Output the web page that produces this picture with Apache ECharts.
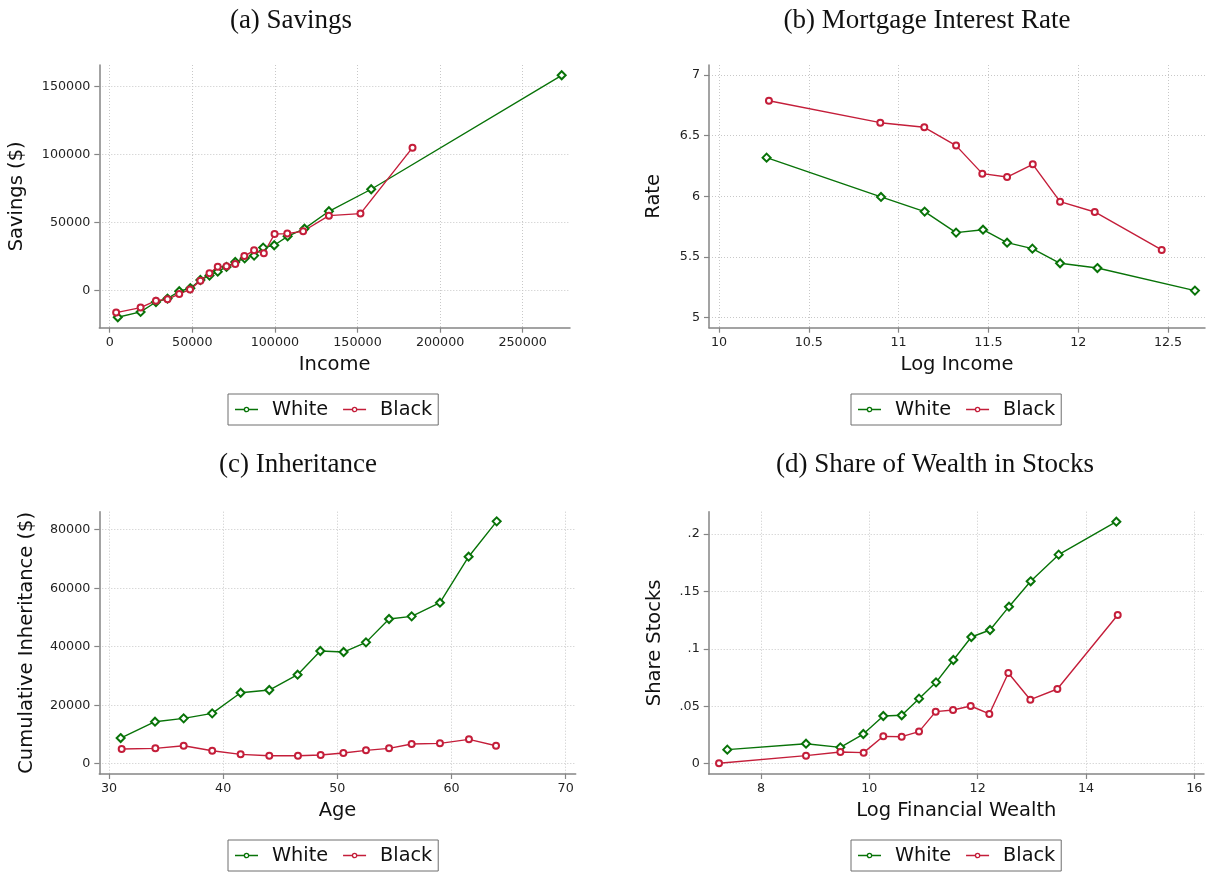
<!DOCTYPE html>
<html><head><meta charset="utf-8">
<script src="https://cdn.jsdelivr.net/npm/echarts@6/dist/echarts.min.js"></script>
<style>html,body{margin:0;padding:0;background:#fff}#c{width:1211px;height:874px}</style>
</head><body><div id="c"></div>
<script>
// ---- Data ----
const seriesNames = ['White', 'Black'];

// (a) Savings vs Income
const aWhiteIncome = [4900,18700,28000,35000,42100,48800,54900,60400,65400,70700,76000,81700,87400,92900,99600,107700,117900,132700,158300,273600];
const aWhiteSavings = [-19800,-15900,-8600,-6100,-700,1500,7600,10800,13700,17200,20800,23500,25500,31400,33100,39700,45300,58100,74300,158100];
const aBlackIncome = [3900,18700,28000,35000,42100,48600,54900,60400,65400,70700,76000,81500,87400,93300,99800,107500,117100,132700,151800,183300];
const aBlackSavings = [-16400,-12700,-7600,-6600,-2700,500,7100,12500,17400,17600,19400,25200,29400,27200,41400,41700,43400,54900,56400,104900];

// (b) Mortgage interest rate vs log income
const bWhiteLogInc = [10.265,10.902,11.145,11.320,11.470,11.604,11.745,11.899,12.107,12.650];
const bWhiteRate = [6.319,5.995,5.874,5.701,5.725,5.618,5.569,5.448,5.409,5.223];
const bBlackLogInc = [10.278,10.898,11.143,11.320,11.466,11.604,11.747,11.899,12.092,12.465];
const bBlackRate = [6.788,6.607,6.569,6.418,6.187,6.159,6.264,5.956,5.871,5.558];

// (c) Cumulative inheritance vs age
const cWhiteAge = [31.02,34.03,36.54,39.04,41.53,44.04,46.52,48.51,50.55,52.51,54.53,56.51,58.99,61.50,63.96];
const cWhiteInh = [8770,14360,15500,17210,24270,25190,30430,38520,38180,41480,49460,50370,55040,70770,82850];
const cBlackAge = [31.11,34.06,36.54,39.04,41.53,44.04,46.55,48.54,50.53,52.51,54.53,56.51,58.99,61.53,63.90];
const cBlackInh = [5010,5240,6150,4440,3190,2740,2740,2960,3650,4560,5240,6720,6950,8320,6150];

// (d) Share of wealth in stocks vs log financial wealth
const dWhiteLogW = [7.378,8.831,9.465,9.889,10.258,10.597,10.917,11.231,11.551,11.883,12.228,12.578,12.978,13.495,14.560];
const dWhiteShare = [0.0122,0.0174,0.0142,0.0258,0.0415,0.0421,0.0566,0.0708,0.0903,0.1103,0.1164,0.1367,0.1588,0.1820,0.2107];
const dBlackLogW = [7.225,8.831,9.465,9.895,10.258,10.597,10.917,11.225,11.545,11.871,12.215,12.566,12.972,13.471,14.585];
const dBlackShare = [0.0003,0.0070,0.0102,0.0096,0.0238,0.0235,0.0279,0.0453,0.0467,0.0502,0.0433,0.0790,0.0557,0.0650,0.1295];

// Tick values
const aXTicks = [0,50000,100000,150000,200000,250000];
const aYTicks = [0,50000,100000,150000];
const bXTicks = [10,10.5,11,11.5,12,12.5];
const bYTicks = [5,5.5,6,6.5,7];
const cXTicks = [30,40,50,60,70];
const cYTicks = [0,20000,40000,60000,80000];
const dXTicks = [8,10,12,14,16];
const dYTicks = [0,0.05,0.1,0.15,0.2];

const titles = ['(a) Savings','(b) Mortgage Interest Rate','(c) Inheritance','(d) Share of Wealth in Stocks'];
const xNames = ['Income','Log Income','Age','Log Financial Wealth'];
const yNames = ['Savings ($)','Rate','Cumulative Inheritance ($)','Share Stocks'];

// ---- Styling / layout ----
const FONT = 'DejaVu Sans';
const GREEN = '#087308';
const RED = '#c41e3a';
const AXIS = '#858585';

function pairs(xs, ys){ return xs.map((x,i)=>[x, ys[i]]); }
const plain = v => String(v);
const noLead = v => (v === 0 ? '0' : String(v).replace(/^0\./, '.'));

function xAxisOf(i, min, max, ticks, name, fmt){
  return {type:'value', gridIndex:i, min:min, max:max, name:name, nameLocation:'middle', nameGap:27,
    nameTextStyle:{fontFamily:FONT, fontSize:19.5, color:'#111'},
    axisLine:{show:true, onZero:false, lineStyle:{color:AXIS, width:1.5}},
    axisTick:{show:true, length:5, customValues:ticks, lineStyle:{color:AXIS, width:1.2}},
    axisLabel:{customValues:ticks, margin:8, fontFamily:FONT, fontSize:12.7, color:'#222', formatter:fmt},
    splitLine:{show:true, lineStyle:{color:'#c8c8c8', type:[1,2], width:1}}};
}
function yAxisOf(i, min, max, ticks, name, gap, fmt){
  return {type:'value', gridIndex:i, min:min, max:max, name:name, nameLocation:'middle', nameGap:gap, nameRotate:90,
    nameTextStyle:{fontFamily:FONT, fontSize:19.5, color:'#111'},
    axisLine:{show:true, onZero:false, lineStyle:{color:AXIS, width:1.5}},
    axisTick:{show:true, length:5, customValues:ticks, lineStyle:{color:AXIS, width:1.2}},
    axisLabel:{customValues:ticks, margin:9, fontFamily:FONT, fontSize:12.7, color:'#222', formatter:fmt},
    splitLine:{show:true, lineStyle:{color:'#c8c8c8', type:[1,2], width:1}}};
}
function lineSeries(name, i, data, color, symbol, size){
  return {type:'line', name:name, xAxisIndex:i, yAxisIndex:i, data:data, color:color,
    symbol:symbol, symbolSize:size, showSymbol:true, showAllSymbol:true,
    lineStyle:{color:color, width:1.4}, itemStyle:{color:color, borderColor:color, borderWidth:1.3},
    emphasis:{disabled:true}, animation:false, z:3};
}

const LEG_ICON = 'path://M0,2.3L8.9,2.3L8.9,3.7L0,3.7Z M14.1,2.3L23,2.3L23,3.7L14.1,3.7Z M11.5,0.2A2.8,2.8 0 1 1 11.49,0.2Z M11.5,1.5A1.5,1.5 0 1 0 11.51,1.5Z';
function legendAt(left, top){
  return {left:left, top:top, orient:'horizontal', data:seriesNames, icon:LEG_ICON,
    itemWidth:23, itemHeight:5.6, itemGap:15, padding:[6,6,6,7],
    itemStyle:{borderWidth:0, borderColor:'transparent'},
    borderColor:'#6e6e6e', borderWidth:1, backgroundColor:'#fff', selectedMode:false,
    textStyle:{fontFamily:FONT, fontSize:19.3, color:'#111', padding:[0,0,0,9]}};
}
function titleAt(text, cx, top){
  return {text:text, left:cx, top:top, textAlign:'center', padding:0,
    textStyle:{fontFamily:'Liberation Serif', fontSize:27, fontWeight:'normal', color:'#111'}};
}

const grids = [
  {left:99.3, top:65, width:470.7, height:262.7},
  {left:709, top:65, width:496, height:262.7},
  {left:99.3, top:511.7, width:476.4, height:262.3},
  {left:708.7, top:511.7, width:495.3, height:262.3}
].map(g => Object.assign({containLabel:false, outerBoundsMode:'none'}, g));

const option = {
  backgroundColor:'#fff',
  animation:false,
  textStyle:{fontFamily:FONT},
  title:[titleAt(titles[0],291,7), titleAt(titles[1],927,7), titleAt(titles[2],298,451), titleAt(titles[3],935,451)],
  legend:[legendAt(228,394), legendAt(851,394), legendAt(228,840), legendAt(851,840)],
  grid:grids,
  xAxis:[
    xAxisOf(0,-6295,278635,aXTicks,xNames[0],plain),
    xAxisOf(1,9.9443,12.706,bXTicks,xNames[1],plain),
    xAxisOf(2,29.15,70.88,cXTicks,xNames[2],plain),
    xAxisOf(3,7.0345,16.178,dXTicks,xNames[3],plain)
  ],
  yAxis:[
    yAxisOf(0,-27500,165660,aYTicks,yNames[0],72,plain),
    yAxisOf(1,4.9173,7.0824,bYTicks,yNames[1],45,plain),
    yAxisOf(2,-3521,86154,cYTicks,yNames[2],62,plain),
    yAxisOf(3,-0.009,0.2194,dYTicks,yNames[3],44,noLead)
  ],
  series:[
    lineSeries('White',0,pairs(aWhiteIncome,aWhiteSavings),GREEN,'emptyDiamond',8),
    lineSeries('Black',0,pairs(aBlackIncome,aBlackSavings),RED,'emptyCircle',6),
    lineSeries('White',1,pairs(bWhiteLogInc,bWhiteRate),GREEN,'emptyDiamond',8),
    lineSeries('Black',1,pairs(bBlackLogInc,bBlackRate),RED,'emptyCircle',6),
    lineSeries('White',2,pairs(cWhiteAge,cWhiteInh),GREEN,'emptyDiamond',8),
    lineSeries('Black',2,pairs(cBlackAge,cBlackInh),RED,'emptyCircle',6),
    lineSeries('White',3,pairs(dWhiteLogW,dWhiteShare),GREEN,'emptyDiamond',8),
    lineSeries('Black',3,pairs(dBlackLogW,dBlackShare),RED,'emptyCircle',6)
  ]
};
const chart = echarts.init(document.getElementById('c'), null, {renderer:'canvas'});
chart.setOption(option);
</script>
</body></html>
